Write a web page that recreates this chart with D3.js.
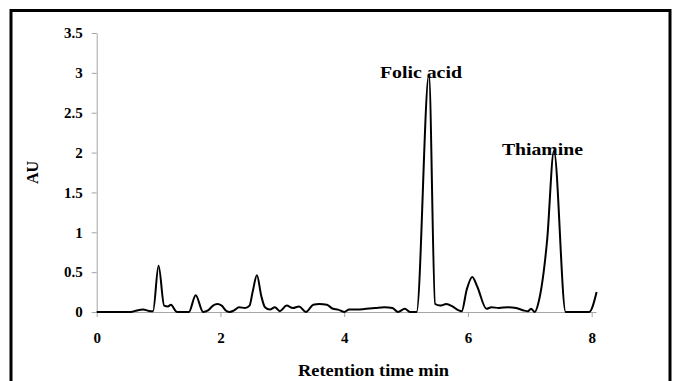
<!DOCTYPE html>
<html>
<head>
<meta charset="utf-8">
<script src="https://cdn.jsdelivr.net/npm/d3@7"></script>
<style>
  html, body { margin: 0; padding: 0; background: #fff; }
  svg { display: block; }
  text { font-family: "Liberation Serif", "Times New Roman", serif; font-weight: bold; fill: #000; }
</style>
</head>
<body>
<svg id="chart" width="675" height="381"></svg>
<script>
// Retention time (min)
const times = [0, 0.55, 0.65, 0.75, 0.87, 0.91, 1.0, 1.09, 1.15, 1.2, 1.28, 1.3, 1.45, 1.49, 1.6, 1.72, 1.8, 1.88, 1.95, 2.02, 2.1, 2.15, 2.22, 2.3, 2.4, 2.47, 2.52, 2.59, 2.66, 2.72, 2.8, 2.88, 2.96, 3.07, 3.17, 3.27, 3.38, 3.5, 3.6, 3.72, 3.82, 3.9, 4.0, 4.08, 4.2, 4.35, 4.5, 4.65, 4.78, 4.87, 4.98, 5.07, 5.17, 5.37, 5.47, 5.55, 5.65, 5.75, 5.85, 5.9, 5.98, 6.07, 6.15, 6.3, 6.38, 6.5, 6.65, 6.78, 6.9, 6.97, 7.02, 7.08, 7.15, 7.28, 7.39, 7.58, 7.96, 8.08];
// Absorbance (AU)
const absorbance = [0, 0, 0.02, 0.03, 0.01, 0.01, 0.58, 0.08, 0.07, 0.09, 0.01, 0, 0, 0, 0.21, 0, 0.02, 0.08, 0.10, 0.08, 0.01, 0, 0.02, 0.06, 0.05, 0.08, 0.25, 0.46, 0.2, 0.06, 0.03, 0.06, 0.01, 0.08, 0.05, 0.07, 0.0, 0.09, 0.1, 0.09, 0.04, 0.03, 0.0, 0.03, 0.03, 0.04, 0.05, 0.06, 0.05, 0.0, 0.04, 0.0, 0, 2.98, 0.1, 0.08, 0.1, 0.07, 0.02, 0.01, 0.28, 0.44, 0.32, 0.04, 0.06, 0.05, 0.06, 0.05, 0.02, 0.01, 0.04, 0.0, 0.15, 0.9, 2.02, 0, 0, 0.25];

const xTicks = [0, 2, 4, 6, 8];
const yTicks = [0, 0.5, 1, 1.5, 2, 2.5, 3, 3.5];
const peakNames = ["Folic acid", "Thiamine"];
const peakTimes = [5.37, 7.39];
const peakHeights = [2.98, 2.02];

const svg = d3.select("#chart");

// outer frame
svg.append("rect")
  .attr("x", 11).attr("y", 10.5).attr("width", 659).attr("height", 420)
  .attr("fill", "none").attr("stroke", "#000").attr("stroke-width", 3);

const x = d3.scaleLinear().domain([0, 8.07]).range([96.7, 596]);
const y = d3.scaleLinear().domain([0, 3.5]).range([312, 33]);

const axisColor = "#a6a6a6";

const gx = svg.append("g").attr("transform", `translate(0,${y(0)})`)
  .call(d3.axisBottom(x).tickValues(xTicks).tickSize(5).tickSizeOuter(0).tickPadding(15).tickFormat(d3.format("d")));
const gy = svg.append("g").attr("transform", `translate(${x(0)},0)`)
  .call(d3.axisLeft(y).tickValues(yTicks).tickSize(5).tickSizeOuter(0).tickPadding(9).tickFormat(d => d3.format("")(d)));

[gx, gy].forEach(g => {
  g.select(".domain").attr("stroke", axisColor);
  g.selectAll(".tick line").attr("stroke", axisColor);
  g.selectAll(".tick text")
    .style("font-family", '"Liberation Serif", serif')
    .style("font-weight", "bold")
    .style("font-size", "15px")
    .attr("fill", "#000");
});

const line = d3.line()
  .x((d, i) => x(times[i]))
  .y(d => y(d))
  .curve(d3.curveMonotoneX);

svg.append("path")
  .datum(absorbance)
  .attr("d", line)
  .attr("fill", "none")
  .attr("stroke", "#000")
  .attr("stroke-width", 2)
  .attr("stroke-linejoin", "round");

// peak labels
const peakOffsets = [-8, -11.5];
const peakWidths = [82, 81];
svg.selectAll(".peak")
  .data(peakNames)
  .enter().append("text")
  .attr("class", "peak")
  .attr("x", (d, i) => x(peakTimes[i]) + peakOffsets[i])
  .attr("y", (d, i) => y(peakHeights[i]) + 4)
  .attr("text-anchor", "middle")
  .attr("textLength", (d, i) => peakWidths[i])
  .attr("lengthAdjust", "spacingAndGlyphs")
  .style("font-size", "17px")
  .text(d => d);

// axis titles
svg.append("text")
  .attr("x", 373.5).attr("y", 376)
  .attr("text-anchor", "middle")
  .attr("textLength", 151)
  .attr("lengthAdjust", "spacingAndGlyphs")
  .style("font-size", "17px")
  .text("Retention time min");

svg.append("text")
  .attr("transform", `translate(38,${(y(0) + y(3.5)) / 2}) rotate(-90)`)
  .attr("text-anchor", "middle")
  .style("font-size", "16px")
  .text("AU");
</script>
</body>
</html>
